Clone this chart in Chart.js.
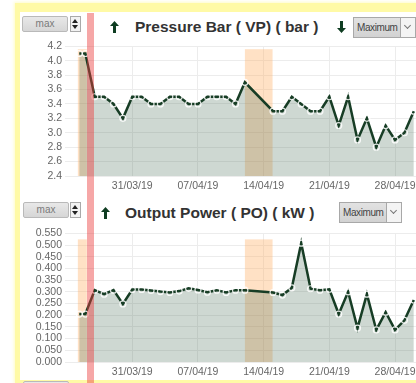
<!DOCTYPE html>
<html>
<head>
<meta charset="utf-8">
<script src="https://cdn.jsdelivr.net/npm/chart.js@4.4.1/dist/chart.umd.min.js"></script>
<style>
  html, body { margin: 0; padding: 0; background: #fff; }
  body { width: 416px; height: 383px; overflow: hidden; position: relative; font-family: Arial, "Liberation Sans", sans-serif; }
  .panel { position: absolute; left: 15px; top: 3px; width: 460px; height: 368px;
           border-left: 5px solid #fffaa6; border-top: 9px solid #fffaa6; border-bottom: 3px solid #fffaa6;
           box-shadow: 0 0 3px 1px #fffcc8; background: #fff; }
  canvas { position: absolute; }
  .title { position: absolute; font-weight: bold; font-size: 15.5px; line-height: 18px; color: #333; white-space: nowrap; }
  .arrow { position: absolute; }
  .maxbox { position: absolute; width: 44px; height: 14px; border: 1px solid #b9b9b9; border-radius: 2px;
            background: linear-gradient(#e8e8e8, #d6d6d6); color: #7a7a7a; font-size: 10px; line-height: 14px; text-align: center; }
  .spin { position: absolute; width: 9px; height: 14px; border: 1px solid #a9a9a9; background: #f2f2f2; }
  .spin:before, .spin:after { content: ''; position: absolute; left: 1px; border-left: 3.5px solid transparent; border-right: 3.5px solid transparent; }
  .spin:before { top: 2px; border-bottom: 4px solid #222; }
  .spin:after { bottom: 2px; border-top: 4px solid #222; }
  .select { position: absolute; width: 61px; height: 19px; border: 1px solid #a8a8a8; background: linear-gradient(#e2e2e2, #d2d2d2);
            color: #444; font-size: 10px; letter-spacing: -0.4px; line-height: 19px; overflow: hidden; }
  .select span { position: absolute; left: 3px; }
  .select i { position: absolute; right: 0; top: 0; width: 14px; height: 19px; border-left: 1px solid #a8a8a8; background: #f4f4f4; }
  .select i:after { content: ''; position: absolute; left: 4px; top: 5px; width: 4px; height: 4px; border-right: 1px solid #777; border-bottom: 1px solid #777; transform: rotate(45deg); }
  .marker { position: absolute; top: 13px; height: 370px; background: rgba(235, 60, 60, 0.45); }
</style>
</head>
<body>
<div class="panel"></div>

<div class="maxbox" style="left:22px;top:16px">max</div>
<div class="spin" style="left:70px;top:16px"></div>
<svg class="arrow" style="left:110px;top:21px" width="9" height="12"><polygon points="0,5 4.5,0 9,5 6,5 6,12 3,12 3,5" fill="#0f3d22"/></svg>
<div class="title" style="left:135px;top:18px">Pressure Bar ( VP) ( bar )</div>
<svg class="arrow" style="left:337px;top:21px" width="9" height="12"><polygon points="3,0 6,0 6,7 9,7 4.5,12 0,7 3,7" fill="#0f3d22"/></svg>
<div class="select" style="left:353px;top:17px"><span>Maximum</span><i></i></div>
<canvas id="Chart" width="480" height="159" style="left:20px;top:37px"></canvas>

<div class="maxbox" style="left:23px;top:202px">max</div>
<div class="spin" style="left:70px;top:202px"></div>
<svg class="arrow" style="left:101px;top:207px" width="9" height="12"><polygon points="0,5 4.5,0 9,5 6,5 6,12 3,12 3,5" fill="#0f3d22"/></svg>
<div class="title" style="left:125px;top:204px">Output Power ( PO) ( kW )</div>
<div class="select" style="left:339px;top:202px"><span>Maximum</span><i></i></div>
<canvas id="ChartPower" width="480" height="158" style="left:20px;top:224px"></canvas>

<div class="maxbox" style="left:23px;top:381px">max</div>
<div class="marker" id="marker"></div>

<script>
// day offsets from 31/03/19
const days = [-5.65, -5, -4, -3, -2, -1, 0, 1, 2, 3, 4, 5, 6, 7, 8, 9, 10, 11, 12,
  15, 16, 17, 18, 19, 20, 21, 22, 23, 24, 25, 26, 27, 28, 29, 30];
const pressure = [4.1, 4.1, 3.5, 3.5, 3.4, 3.2, 3.5, 3.5, 3.4, 3.4, 3.5, 3.5, 3.4, 3.4, 3.5, 3.5, 3.5, 3.4, 3.7,
  3.3, 3.3, 3.5, 3.4, 3.3, 3.3, 3.5, 3.1, 3.5, 2.9, 3.2, 2.8, 3.1, 2.9, 3.0, 3.3];
const power = [0.205, 0.205, 0.307, 0.29, 0.307, 0.248, 0.31, 0.31, 0.306, 0.301, 0.297, 0.303, 0.315, 0.308, 0.298, 0.307, 0.297, 0.307, 0.307,
  0.297, 0.286, 0.317, 0.508, 0.313, 0.307, 0.311, 0.205, 0.3, 0.145, 0.29, 0.137, 0.213, 0.137, 0.178, 0.265];
const weekLabels = ['31/03/19', '07/04/19', '14/04/19', '21/04/19', '28/04/19', '05/05/19'];

// shaded periods (days) and the selected day
const bandStarts = [-5.8, 12];
const bandEnds = [-4.84, 14.95];
const selStart = -4.84;
const selEnd = -4.1;

const bandPlugin = {
  id: 'bands',
  beforeDatasetsDraw(chart, args, opts) {
    const { ctx, chartArea, scales: { x, y } } = chart;
    const top = y.getPixelForValue(opts.top);
    ctx.save();
    ctx.fillStyle = 'rgba(255, 180, 110, 0.4)';
    bandStarts.forEach((s, i) => {
      const l = x.getPixelForValue(s);
      const r = x.getPixelForValue(bandEnds[i]);
      ctx.fillRect(l, top, r - l, chartArea.bottom - top);
    });
    ctx.restore();
  }
};

function makeChart(el, values, yMin, yMax, yStep, decimals, bandTop) {
  return new Chart(el, {
    type: 'line',
    data: {
      datasets: [{
        data: days.map((d, i) => ({ x: d, y: values[i] })),
        borderColor: '#173d25',
        borderWidth: 2.5,
        backgroundColor: 'rgba(60, 100, 75, 0.25)',
        fill: 'start',
        tension: 0,
        pointRadius: 3,
        pointBorderWidth: 1.2,
        pointBorderColor: 'rgba(255, 255, 255, 0.85)',
        pointBackgroundColor: 'rgba(0, 0, 0, 0)'
      }]
    },
    options: {
      responsive: false,
      animation: false,
      layout: { padding: { top: 8, left: 0, right: 0, bottom: 0 } },
      plugins: { legend: { display: false }, tooltip: { enabled: false }, bands: { top: bandTop } },
      scales: {
        x: {
          type: 'linear',
          min: -6.316,
          max: 38.63,
          border: { display: false },
          grid: { color: '#ececec', drawTicks: false },
          ticks: {
            stepSize: 7,
            includeBounds: false,
            padding: 4,
            color: '#666',
            font: { size: 10.5, family: 'Arial, "Liberation Sans"' },
            maxRotation: 0,
            callback: v => weekLabels[v / 7] || ''
          },
          afterFit: s => { s.height = 20; }
        },
        y: {
          min: yMin,
          max: yMax,
          border: { display: false },
          grid: { color: '#ececec', tickLength: 8 },
          ticks: {
            stepSize: yStep,
            autoSkip: false,
            padding: 3,
            color: '#666',
            font: { size: 10.5, family: 'Arial, "Liberation Sans"' },
            callback: v => Number(v).toFixed(decimals)
          },
          afterFit: s => { s.width = 53; }
        }
      }
    },
    plugins: [bandPlugin]
  });
}

const pressureChart = makeChart(document.getElementById('Chart'), pressure, 2.4, 4.2, 0.2, 1, 4.16);
makeChart(document.getElementById('ChartPower'), power, 0, 0.55, 0.05, 3, 0.524);

// selected day marker across both charts
const xs = pressureChart.scales.x;
const marker = document.getElementById('marker');
const left = 20 + xs.getPixelForValue(selStart);
marker.style.left = left + 'px';
marker.style.width = (20 + xs.getPixelForValue(selEnd) - left) + 'px';
</script>
</body>
</html>
